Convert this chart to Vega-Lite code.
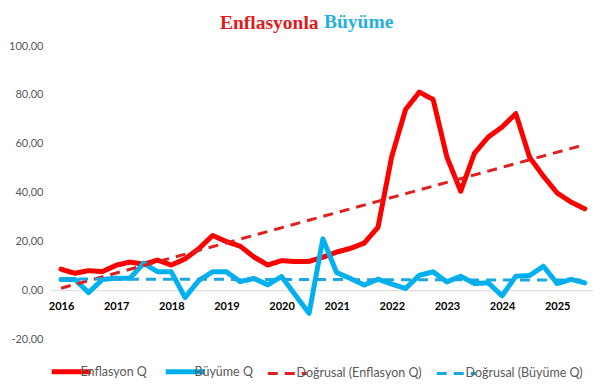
{
  "$schema": "https://vega.github.io/schema/vega-lite/v6.json",
  "width": 543,
  "height": 293,
  "autosize": "none",
  "padding": {"left": 50, "top": 46, "right": 7, "bottom": 52},
  "background": "white",
  "config": {
    "view": {"stroke": null},
    "font": "Lato"
  },
  "title": {
    "text": "Enflasyonla",
    "anchor": "start",
    "frame": "group",
    "dx": 170,
    "dy": 50,
    "baseline": "alphabetic",
    "offset": 13,
    "font": "Liberation Serif",
    "fontSize": 19.5,
    "fontWeight": "bold",
    "color": "#e01b1b"
  },
  "data": {
    "values": [
      {"yil": 2016.00, "enflasyon": 8.6, "buyume": 4.4},
      {"yil": 2016.25, "enflasyon": 6.9, "buyume": 4.4},
      {"yil": 2016.50, "enflasyon": 8.0, "buyume": -1.0},
      {"yil": 2016.75, "enflasyon": 7.6, "buyume": 4.4},
      {"yil": 2017.00, "enflasyon": 10.2, "buyume": 4.9},
      {"yil": 2017.25, "enflasyon": 11.5, "buyume": 4.9},
      {"yil": 2017.50, "enflasyon": 10.6, "buyume": 11.0},
      {"yil": 2017.75, "enflasyon": 12.3, "buyume": 7.6},
      {"yil": 2018.00, "enflasyon": 10.3, "buyume": 7.5},
      {"yil": 2018.25, "enflasyon": 12.8, "buyume": -3.0},
      {"yil": 2018.50, "enflasyon": 17.0, "buyume": 4.0},
      {"yil": 2018.75, "enflasyon": 22.4, "buyume": 7.5},
      {"yil": 2019.00, "enflasyon": 19.9, "buyume": 7.5},
      {"yil": 2019.25, "enflasyon": 18.0, "buyume": 3.5},
      {"yil": 2019.50, "enflasyon": 13.6, "buyume": 4.8},
      {"yil": 2019.75, "enflasyon": 10.3, "buyume": 2.2},
      {"yil": 2020.00, "enflasyon": 12.1, "buyume": 5.6},
      {"yil": 2020.25, "enflasyon": 11.7, "buyume": -2.0},
      {"yil": 2020.50, "enflasyon": 11.8, "buyume": -9.5},
      {"yil": 2020.75, "enflasyon": 13.5, "buyume": 21.0},
      {"yil": 2021.00, "enflasyon": 15.6, "buyume": 7.2},
      {"yil": 2021.25, "enflasyon": 17.1, "buyume": 4.8},
      {"yil": 2021.50, "enflasyon": 19.3, "buyume": 2.1},
      {"yil": 2021.75, "enflasyon": 25.8, "buyume": 4.5},
      {"yil": 2022.00, "enflasyon": 54.8, "buyume": 2.5},
      {"yil": 2022.25, "enflasyon": 74.0, "buyume": 0.7},
      {"yil": 2022.50, "enflasyon": 81.1, "buyume": 6.1},
      {"yil": 2022.75, "enflasyon": 78.1, "buyume": 7.5},
      {"yil": 2023.00, "enflasyon": 54.5, "buyume": 3.4},
      {"yil": 2023.25, "enflasyon": 40.5, "buyume": 5.7},
      {"yil": 2023.50, "enflasyon": 56.1, "buyume": 2.7},
      {"yil": 2023.75, "enflasyon": 62.7, "buyume": 3.0},
      {"yil": 2024.00, "enflasyon": 66.8, "buyume": -2.3},
      {"yil": 2024.25, "enflasyon": 72.3, "buyume": 5.7},
      {"yil": 2024.50, "enflasyon": 54.4, "buyume": 6.0},
      {"yil": 2024.75, "enflasyon": 46.7, "buyume": 9.8},
      {"yil": 2025.00, "enflasyon": 39.8, "buyume": 2.7},
      {"yil": 2025.25, "enflasyon": 36.1, "buyume": 4.4},
      {"yil": 2025.50, "enflasyon": 33.3, "buyume": 3.0}
    ]
  },
  "encoding": {
    "x": {
      "field": "yil",
      "type": "quantitative",
      "scale": {"domain": [2015.8, 2025.65], "nice": false, "zero": false},
      "axis": {
        "title": null,
        "values": [2016, 2017, 2018, 2019, 2020, 2021, 2022, 2023, 2024, 2025],
        "format": "d",
        "grid": false,
        "ticks": false,
        "domainColor": "#d9d9d9",
        "domainWidth": 1,
        "offset": -48.8,
        "labelFont": "Lato",
        "labelFontWeight": "bold",
        "labelFontSize": 11,
        "labelColor": "#000000",
        "labelPadding": 10,
        "labelFlush": false
      }
    }
  },
  "layer": [
    {
      "mark": {"type": "line", "strokeWidth": 5, "strokeJoin": "round", "strokeCap": "round"},
      "encoding": {
        "y": {
          "field": "enflasyon", "type": "quantitative",
          "scale": {"domain": [-20, 100], "nice": false},
          "axis": {
            "title": "Büyüme", "values": [-20, 0, 20, 40, 60, 80, 100],
            "labelExpr": "datum.value + ',00'",
            "grid": false, "ticks": false, "domain": false,
            "labelFont": "Lato", "labelFontSize": 11, "labelColor": "#595959", "labelPadding": 7,
            "titleAngle": 0, "titleX": 273.5, "titleY": -19, "titleAlign": "left", "titleBaseline": "alphabetic",
            "titleFont": "Liberation Serif", "titleFontSize": 19.5, "titleFontWeight": "bold", "titleColor": "#1fb1e0"
          }
        },
        "color": {"datum": "Enflasyon Q", "type": "nominal",
          "scale": {"domain": ["Enflasyon Q", "Büyüme Q", "Doğrusal (Enflasyon Q)", "Doğrusal (Büyüme Q)"], "range": ["#ff0000", "#00b0f0", "#e0201f", "#1aa8e0"]},
          "legend": {
            "title": null,
            "orient": "none",
            "legendX": 15,
            "legendY": 319,
            "direction": "horizontal",
            "columns": 4,
            "symbolType": "stroke",
            "symbolSize": 1521,
            "symbolStrokeWidth": {"expr": "datum.index < 2 ? 5 : 3"},
            "labelFont": "Lato",
            "labelFontSize": 12.5,
            "labelColor": "#595959",
            "labelOffset": 3,
            "columnPadding": 8,
            "padding": 0
          }},
        "strokeDash": {"datum": "Enflasyon Q", "type": "nominal",
          "scale": {"domain": ["Enflasyon Q", "Büyüme Q", "Doğrusal (Enflasyon Q)", "Doğrusal (Büyüme Q)"], "range": [[1, 0], [1, 0], [10, 7], [10, 7]]},
          "legend": {"title": null}}
      }
    },
    {
      "mark": {"type": "line", "strokeWidth": 5, "strokeJoin": "round", "strokeCap": "round"},
      "encoding": {
        "y": {"field": "buyume", "type": "quantitative", "title": "Büyüme"},
        "color": {"datum": "Büyüme Q", "type": "nominal"},
        "strokeDash": {"datum": "Büyüme Q", "type": "nominal"}
      }
    },
    {
      "transform": [{"regression": "enflasyon", "on": "yil", "extent": [2016, 2025.5]}],
      "mark": {"type": "line", "strokeWidth": 3},
      "encoding": {
        "y": {"field": "enflasyon", "type": "quantitative", "title": "Büyüme"},
        "color": {"datum": "Doğrusal (Enflasyon Q)", "type": "nominal"},
        "strokeDash": {"datum": "Doğrusal (Enflasyon Q)", "type": "nominal"}
      }
    },
    {
      "transform": [{"regression": "buyume", "on": "yil", "extent": [2016, 2025.5]}],
      "mark": {"type": "line", "strokeWidth": 3},
      "encoding": {
        "y": {"field": "buyume", "type": "quantitative", "title": "Büyüme"},
        "color": {"datum": "Doğrusal (Büyüme Q)", "type": "nominal"},
        "strokeDash": {"datum": "Doğrusal (Büyüme Q)", "type": "nominal"}
      }
    }
  ]
}
